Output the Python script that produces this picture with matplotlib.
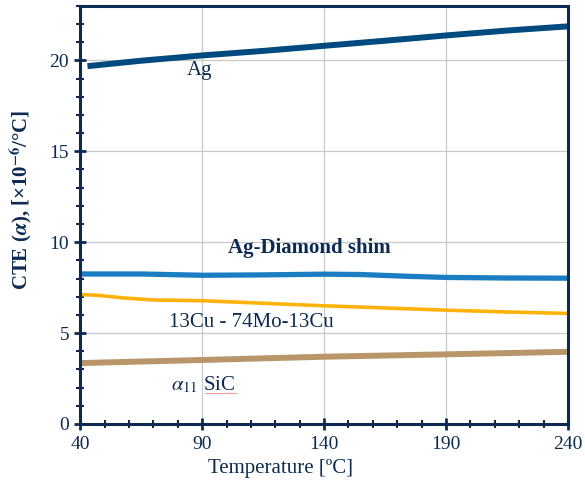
import matplotlib
matplotlib.use("Agg")
import matplotlib.pyplot as plt
from matplotlib.ticker import MultipleLocator

# temperature points (deg C) and CTE values
temp = [43, 65, 90, 115, 140, 165, 190, 215, 240]
ag = [19.68, 19.98, 20.27, 20.52, 20.80, 21.08, 21.37, 21.64, 21.87]

temp_shim = [40, 65, 90, 115, 140, 155, 175, 190, 215, 240]
shim = [8.25, 8.25, 8.18, 8.2, 8.24, 8.22, 8.12, 8.06, 8.03, 8.02]

temp_cumo = [40, 47, 58, 70, 90, 115, 140, 165, 190, 215, 240]
cumo = [7.12, 7.08, 6.93, 6.82, 6.78, 6.64, 6.5, 6.38, 6.26, 6.16, 6.08]

temp_sic = [40, 90, 140, 190, 240]
sic = [3.35, 3.52, 3.70, 3.83, 3.97]

navy = "#0d2b52"

plt.rcParams["font.family"] = ["Liberation Serif", "DejaVu Serif"]
plt.rcParams["mathtext.fontset"] = "stix"

fig = plt.figure(figsize=(5.85, 4.84), dpi=100)
ax = fig.add_axes([0.137, 0.124, 0.834, 0.864])

ax.plot(temp, ag, color="#004a80", lw=4.3, solid_capstyle="butt")
ax.plot(temp_shim, shim, color="#1b7dc2", lw=3.8, solid_capstyle="butt")
ax.plot(temp_cumo, cumo, color="#ffb20a", lw=2.6, solid_capstyle="butt")
ax.plot(temp_sic, sic, color="#b8966a", lw=4.3, solid_capstyle="butt")

ax.text(89, 19.45, "Ag", color=navy, fontsize=15, ha="center", va="center")
ax.text(134, 9.67, "Ag-Diamond shim", color=navy, fontsize=15,
        fontweight="bold", ha="center", va="center")
ax.text(110, 5.6, "13Cu - 74Mo-13Cu", color=navy, fontsize=15,
        ha="center", va="center")
ax.text(90.5, 2.14, r"$\alpha_{11}$ SiC", color=navy, fontsize=15,
        ha="center", va="center")
# spell-check squiggle under SiC
ax.plot([91, 104], [1.72, 1.72], color="#f4a0a0", lw=0.8)

ax.set_xlim(40, 240)
ax.set_ylim(0, 23)
ax.set_xticks([40, 90, 140, 190, 240])
ax.set_yticks([0, 5, 10, 15, 20])
ax.xaxis.set_minor_locator(MultipleLocator(10))
ax.yaxis.set_minor_locator(MultipleLocator(1))
ax.grid(True, which="major", color="#c8c8c8", lw=0.9)
ax.set_axisbelow(True)

for s in ax.spines.values():
    s.set_color(navy)
    s.set_linewidth(2.2)
ax.tick_params(which="major", direction="inout", length=9, width=2,
               color=navy, labelcolor=navy, labelsize=14)
ax.tick_params(which="minor", direction="inout", length=6, width=1.5,
               color=navy)
ax.tick_params(axis="x", pad=4)

ax.set_xlabel("Temperature [ºC]", color=navy, fontsize=15)
ax.xaxis.set_label_coords(0.41, -0.083)
ax.set_ylabel(r"CTE ($\boldsymbol{\alpha}$), [×10$^{\mathbf{-6}}$/°C]",
              color=navy, fontsize=15, fontweight="bold")
ax.yaxis.set_label_coords(-0.092, 0.536)

fig.savefig("out.png", dpi=100)
